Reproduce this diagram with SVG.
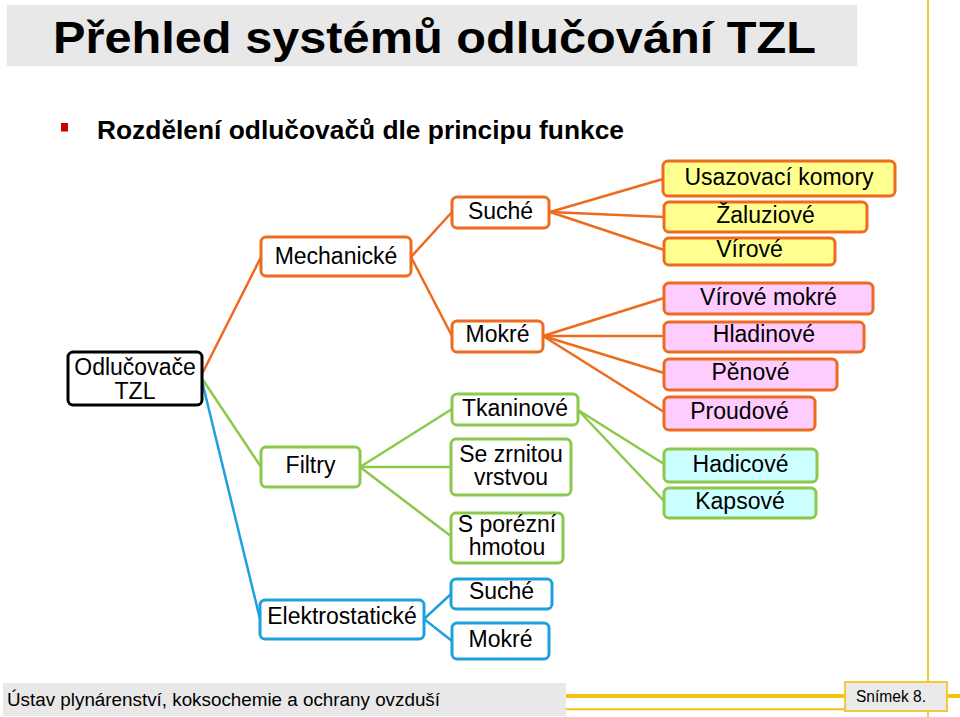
<svg xmlns="http://www.w3.org/2000/svg" width="960" height="717" viewBox="0 0 960 717">
<style>
text{font-family:"Liberation Sans",Arial,sans-serif;fill:#000}
.n{font-size:23px;text-anchor:middle}
.b{stroke-width:3;rx:5}
.or{fill:#fff;stroke:#EE6A1E}
.gr{fill:#fff;stroke:#8CC84B}
.bl{fill:#fff;stroke:#1EA0DC}
.ye{fill:#FFFF90;stroke:#EE6A1E}
.pk{fill:#FFCCFF;stroke:#EE6A1E}
.cy{fill:#CCFFFF;stroke:#8CC84B}
.lo{stroke:#EE6A1E;stroke-width:2.5;fill:none}
.lg{stroke:#8CC84B;stroke-width:2.5;fill:none}
.lb{stroke:#1EA0DC;stroke-width:2.5;fill:none}
</style>
<rect x="0" y="0" width="960" height="717" fill="#fff"/>
<g id="frame">
<rect x="7" y="5" width="850" height="61" fill="#E8E8E8"/>
<text x="53" y="53" font-size="44" font-weight="bold" textLength="763" lengthAdjust="spacingAndGlyphs">Přehled systémů odlučování TZL</text>
<rect x="61" y="123" width="7" height="8.5" fill="#CC0000"/>
<text x="97" y="139" font-size="25" font-weight="bold" textLength="527" lengthAdjust="spacingAndGlyphs">Rozdělení odlučovačů dle principu funkce</text>
<line x1="928" y1="0" x2="928" y2="717" stroke="#F5C842" stroke-width="2"/>
<rect x="3" y="683" width="563" height="33" fill="#E8E8E8"/>
<text x="7" y="706" font-size="18" textLength="433" lengthAdjust="spacingAndGlyphs">Ústav plynárenství, koksochemie a ochrany ovzduší</text>
<line x1="566" y1="696" x2="960" y2="696" stroke="#F4C20D" stroke-width="4"/>
<line x1="566" y1="709.3" x2="845" y2="709.3" stroke="#F4C20D" stroke-width="2"/>
<rect x="845" y="682" width="102" height="29" fill="#EAEAEA" stroke="#F4C838" stroke-width="2"/>
<text x="856" y="702" font-size="16" textLength="70" lengthAdjust="spacingAndGlyphs">Snímek 8.</text>
</g>
<g id="connectors">
<line class="lo" x1="201" y1="376" x2="261" y2="257"/>
<line class="lg" x1="201" y1="377" x2="261" y2="467"/>
<line class="lb" x1="201" y1="377" x2="260" y2="619"/>
<line class="lo" x1="411" y1="257" x2="452" y2="212"/>
<line class="lo" x1="411" y1="257" x2="452" y2="336"/>
<line class="lo" x1="550" y1="212" x2="663" y2="179"/>
<line class="lo" x1="550" y1="212" x2="664" y2="217"/>
<line class="lo" x1="550" y1="212" x2="664" y2="250"/>
<line class="lo" x1="543" y1="336" x2="664" y2="298"/>
<line class="lo" x1="543" y1="336" x2="664" y2="336"/>
<line class="lo" x1="543" y1="336" x2="664" y2="373"/>
<line class="lo" x1="543" y1="336" x2="664" y2="412"/>
<line class="lg" x1="360" y1="467" x2="452" y2="409"/>
<line class="lg" x1="360" y1="467" x2="451" y2="467"/>
<line class="lg" x1="360" y1="467" x2="452" y2="537"/>
<line class="lg" x1="578" y1="410" x2="664" y2="464"/>
<line class="lg" x1="578" y1="410" x2="664" y2="501"/>
<line class="lb" x1="424" y1="619" x2="451" y2="594"/>
<line class="lb" x1="424" y1="619" x2="452" y2="641"/>
</g>
<g id="root"><rect class="b" x="68" y="352" width="134" height="53" fill="#fff" stroke="#000"/><text class="n" x="135" y="375">Odlučovače</text><text class="n" x="135" y="399">TZL</text></g>
<g id="mechanicke"><rect class="b or" x="261" y="237" width="150" height="39"/><text class="n" x="336" y="264">Mechanické</text></g>
<g id="filtry"><rect class="b gr" x="261" y="447" width="99" height="40"/><text class="n" x="310.5" y="473">Filtry</text></g>
<g id="elektrostaticke"><rect class="b bl" x="260" y="600" width="164" height="39"/><text class="n" x="342" y="624">Elektrostatické</text></g>
<g id="suche"><rect class="b or" x="452" y="197" width="97" height="31"/><text class="n" x="500.5" y="219">Suché</text></g>
<g id="mokre"><rect class="b or" x="452" y="321" width="91" height="31"/><text class="n" x="497.5" y="342">Mokré</text></g>
<g id="tkaninove"><rect class="b gr" x="452" y="394" width="126" height="31"/><text class="n" x="515" y="416">Tkaninové</text></g>
<g id="se-zrnitou"><rect class="b gr" x="451" y="439" width="120" height="56"/><text class="n" x="511" y="462">Se zrnitou</text><text class="n" x="511" y="485">vrstvou</text></g>
<g id="s-porezni"><rect class="b gr" x="451" y="513" width="112" height="50"/><text class="n" x="507" y="532">S porézní</text><text class="n" x="507" y="555">hmotou</text></g>
<g id="suche-el"><rect class="b bl" x="451" y="579" width="101" height="30"/><text class="n" x="501.5" y="599">Suché</text></g>
<g id="mokre-el"><rect class="b bl" x="452" y="623" width="97" height="36"/><text class="n" x="500.5" y="647">Mokré</text></g>
<g id="usazovaci"><rect class="b ye" x="663" y="161" width="232" height="35"/><text class="n" x="779" y="185">Usazovací komory</text></g>
<g id="zaluziove"><rect class="b ye" x="664" y="202" width="203" height="30"/><text class="n" x="765.5" y="223">Žaluziové</text></g>
<g id="virove"><rect class="b ye" x="664" y="238" width="171" height="27"/><text class="n" x="749.5" y="257">Vírové</text></g>
<g id="virove-mokre"><rect class="b pk" x="664" y="283" width="209" height="31"/><text class="n" x="768.5" y="305">Vírové mokré</text></g>
<g id="hladinove"><rect class="b pk" x="664" y="322" width="200" height="30"/><text class="n" x="764" y="342">Hladinové</text></g>
<g id="penove"><rect class="b pk" x="664" y="359" width="173" height="31"/><text class="n" x="750.5" y="380">Pěnové</text></g>
<g id="proudove"><rect class="b pk" x="664" y="397" width="151" height="33"/><text class="n" x="739.5" y="419">Proudové</text></g>
<g id="hadicove"><rect class="b cy" x="664" y="449" width="153" height="33"/><text class="n" x="740.5" y="472">Hadicové</text></g>
<g id="kapsove"><rect class="b cy" x="664" y="488" width="152" height="30"/><text class="n" x="740" y="509">Kapsové</text></g>
</svg>
